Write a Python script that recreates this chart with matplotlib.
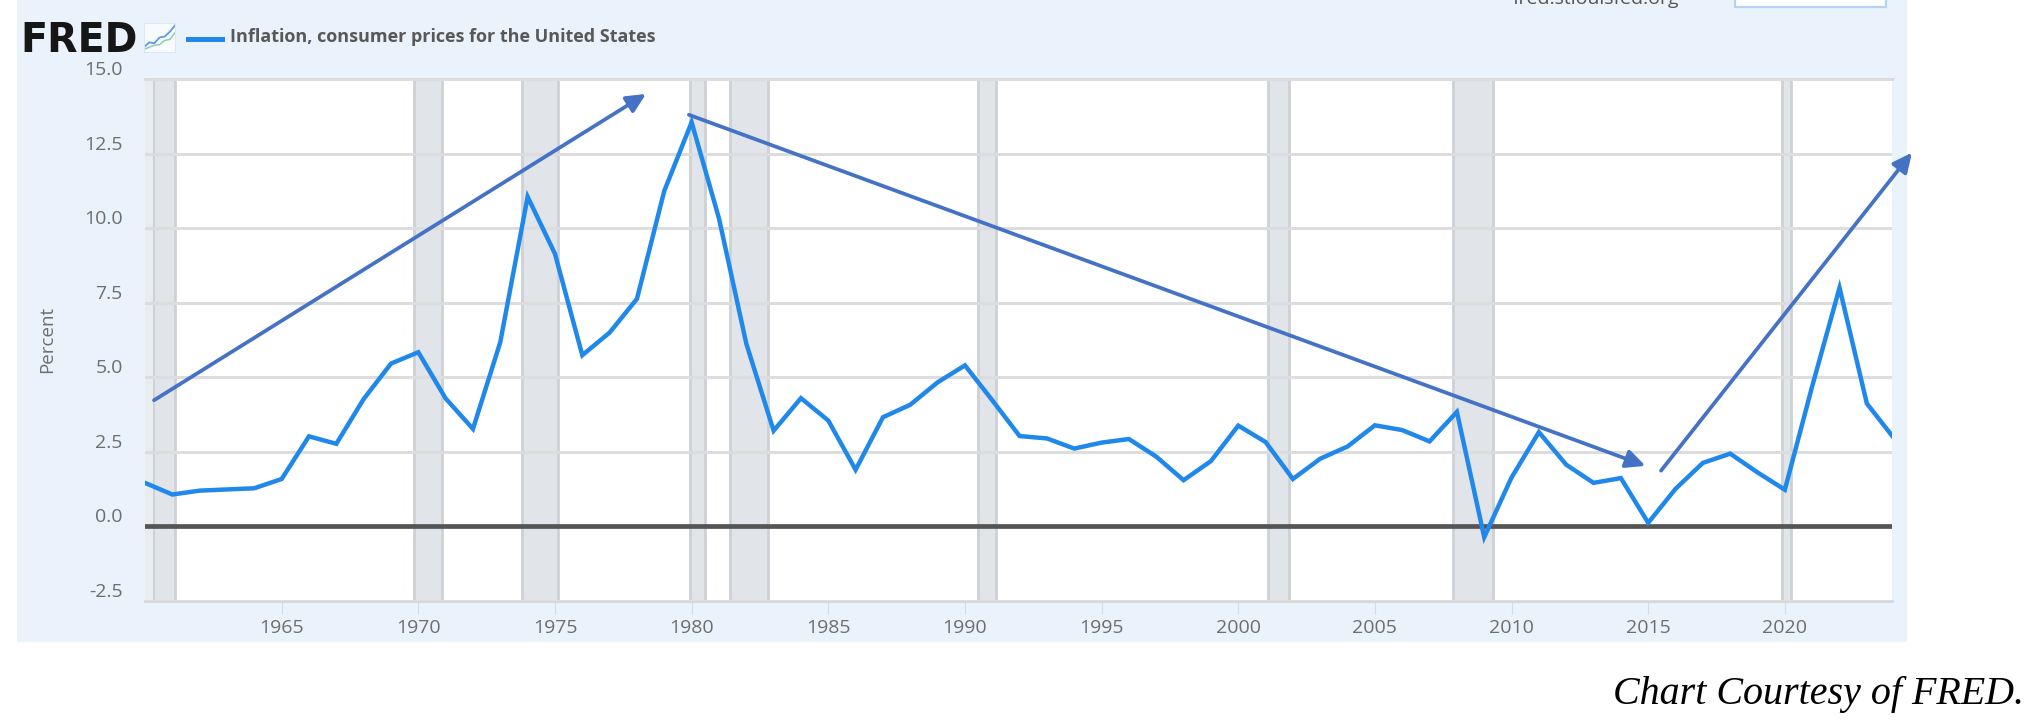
import matplotlib
matplotlib.use('Agg')
import matplotlib.pyplot as plt
from matplotlib.patches import Rectangle

W, H = 2035, 727

years = list(range(1960, 2025))
inflation = [1.46, 1.07, 1.20, 1.24, 1.28, 1.59, 3.02, 2.77, 4.27, 5.46,
             5.84, 4.29, 3.27, 6.18, 11.05, 9.14, 5.74, 6.50, 7.63, 11.25,
             13.55, 10.33, 6.13, 3.21, 4.30, 3.55, 1.90, 3.66, 4.08, 4.83,
             5.40, 4.23, 3.03, 2.95, 2.61, 2.81, 2.93, 2.34, 1.55, 2.19,
             3.38, 2.83, 1.59, 2.27, 2.68, 3.39, 3.23, 2.85, 3.84, -0.36,
             1.64, 3.16, 2.07, 1.46, 1.62, 0.12, 1.26, 2.13, 2.44, 1.81,
             1.23, 4.70, 8.00, 4.12, 2.95]

recession_start = [1960.3, 1969.85, 1973.8, 1979.93, 1981.4, 1990.48, 2001.1, 2007.87, 2019.9]
recession_end = [1961.1, 1970.85, 1975.12, 1980.48, 1982.8, 1991.12, 2001.85, 2009.32, 2020.22]

x_ticks = [1965, 1970, 1975, 1980, 1985, 1990, 1995, 2000, 2005, 2010, 2015, 2020]
y_ticks = [-2.5, 0, 2.5, 5, 7.5, 10, 12.5, 15]
y_labels = ['-2.5', '0.0', '2.5', '5.0', '7.5', '10.0', '12.5', '15.0']

# trend arrows, in data units: start x, start y, end x, end y
arrow_x0 = [1960.33, 1979.9, 2015.47]
arrow_y0 = [4.23, 13.8, 1.87]
arrow_x1 = [1978.33, 2014.9, 2024.65]
arrow_y1 = [14.5, 2.03, 12.53]

legend_text = 'Inflation, consumer prices for the United States'
caption = 'Chart Courtesy of FRED.'
site_text = 'fred.stlouisfed.org'

blue = '#1f88ea'
arrow_blue = '#4472c4'
panel = '#eaf2fb'
gray = '#6e6e6e'

plt.rcParams['font.family'] = ['Open Sans', 'DejaVu Sans']

fig = plt.figure(figsize=(W / 100, H / 100), dpi=100, facecolor='white')


def fx(px):
    return px / W


def fy(py):
    return 1 - py / H


# light blue panel behind the chart
fig.patches.append(Rectangle((fx(17), fy(642)), fx(1907 - 17), 642 / H,
                             transform=fig.transFigure, facecolor=panel,
                             edgecolor='none', zorder=-5))

ax = fig.add_axes([fx(145), fy(601), fx(1892 - 145), (601 - 79) / H])
ax.set_xlim(1960, 2023.92)
ax.set_ylim(-2.43, 14.97)
ax.set_facecolor('white')

for a, b in zip(recession_start, recession_end):
    ax.axvspan(a, b, facecolor='#e1e5ea', edgecolor='#cdd1d6', linewidth=2, zorder=1)
# the band that runs in from the left edge is paler before its first line
ax.axvspan(ax.get_xlim()[0], recession_start[0], facecolor='#eaedf0', edgecolor='none', zorder=1)

ax.set_yticks(y_ticks)
ax.set_yticklabels(y_labels)
ax.set_xticks(x_ticks)
ax.set_xticklabels([str(t) for t in x_ticks])
for lab in ax.get_yticklabels():
    lab.set_verticalalignment('bottom')
ax.tick_params(axis='y', length=0, pad=16, labelsize=14, labelcolor=gray)
ax.tick_params(axis='x', length=9, width=0.8, color='#d3dbe3', pad=4, labelsize=14, labelcolor=gray)
ax.grid(axis='y', color='#dddddd', linewidth=2.2, zorder=2)
ax.set_axisbelow(False)

for side in ['left', 'right']:
    ax.spines[side].set_visible(False)
for side in ['top', 'bottom']:
    ax.spines[side].set_color('#d6d6d6')
    ax.spines[side].set_linewidth(2)

ax.axhline(0, color='#555555', linewidth=3.4, zorder=3)
ax.plot(years, inflation, color=blue, linewidth=3.2, solid_joinstyle='miter', zorder=4, clip_on=True)

for x0, y0, x1, y1 in zip(arrow_x0, arrow_y0, arrow_x1, arrow_y1):
    ax.annotate('', xy=(x1, y1), xytext=(x0, y0), annotation_clip=False, zorder=6,
                arrowprops=dict(arrowstyle='-|>,head_length=1.15,head_width=0.55',
                                color=arrow_blue, linewidth=2.7,
                                shrinkA=0, shrinkB=0))

# header
fig.text(fx(20), fy(52), 'FRED', fontsize=28.5, fontweight='bold', color='#161616',
         family=['DejaVu Sans'], va='baseline', ha='left')

icon = fig.add_axes([fx(144), fy(52), fx(31), 29 / H])
icon.set_xlim(0, 6)
icon.set_ylim(0, 6)
icon.set_xticks([])
icon.set_yticks([])
icon.set_facecolor('#f8fbfe')
for s in icon.spines.values():
    s.set_color('#dfe8f1')
icon.plot([0, 1, 2, 3, 4, 5, 6], [1, 2, 1.8, 3, 3.2, 4.2, 5.5], color='#5b9be6', linewidth=1.3)
icon.plot([0, 1, 2, 3, 4, 5, 6], [0.5, 1, 1.4, 1.5, 2.4, 2.6, 4], color='#8fcbb8', linewidth=1.1)

legend_line = plt.Line2D([fx(188), fx(222)], [fy(39), fy(39)], color=blue, linewidth=3.6,
                         transform=fig.transFigure)
fig.add_artist(legend_line)
fig.text(fx(230), fy(37), legend_text, fontsize=13, fontweight='bold', color='#585858',
         ha='left', va='center')

fig.text(fx(47), fy(339), 'Percent', fontsize=13.5, color=gray, rotation=90,
         ha='center', va='center')

# top right bits, cut off by the image edge as in the source screenshot
fig.text(fx(1513), fy(-1), site_text, fontsize=14, color='#555555', ha='left', va='center')
fig.patches.append(Rectangle((fx(1735), fy(7)), fx(151), 12 / H, transform=fig.transFigure,
                             facecolor='white', edgecolor='#b5d4f5', linewidth=1.6, zorder=3))

fig.text(fx(2024), fy(704), caption, fontsize=28.8, style='italic', color='black',
         family=['Liberation Serif', 'DejaVu Serif'], ha='right', va='baseline')

fig.savefig('out.png', dpi=100)
